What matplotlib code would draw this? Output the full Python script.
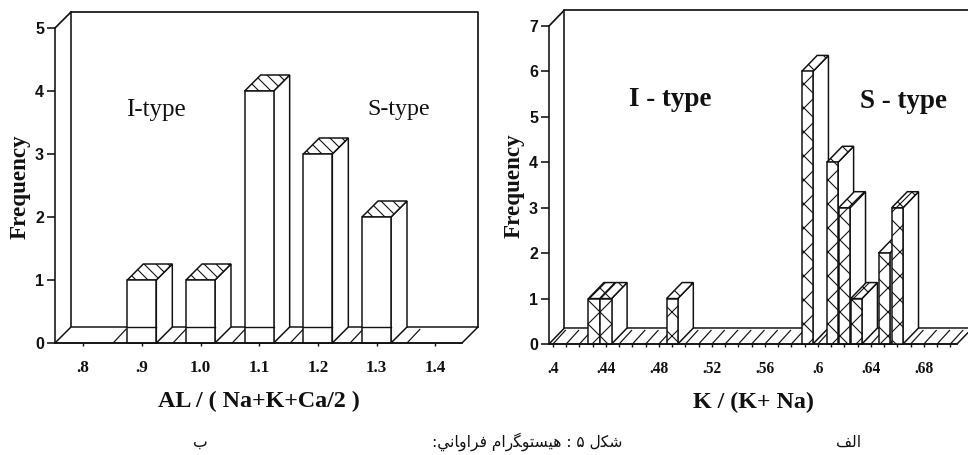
#!/usr/bin/env python3
"""Two pseudo-3D frequency histograms (scanned figure 5), saved to out.png."""
import matplotlib
matplotlib.use("Agg")
import matplotlib.pyplot as plt
from matplotlib.patches import Polygon

W, H = 968, 455
INK = "#111111"

# left panel (b)
al_bins = [0.9, 1.0, 1.1, 1.2, 1.3]
al_freq = [1, 1, 4, 3, 2]
al_ticks = [0.8, 0.9, 1.0, 1.1, 1.2, 1.3, 1.4]
al_labels = [".8", ".9", "1.0", "1.1", "1.2", "1.3", "1.4"]
al_yticks = [0, 1, 2, 3, 4, 5]
al_floor_strokes = [0.851, 0.953, 1.054, 1.153, 1.255, 1.352]

# right panel (alef)
k_bins = [0.431, 0.44, 0.49, 0.592, 0.611, 0.62, 0.629, 0.65, 0.66]
k_freq = [1, 1, 1, 6, 4, 3, 1, 2, 3]
k_ticks = [0.40, 0.44, 0.48, 0.52, 0.56, 0.60, 0.64, 0.68]
k_labels = [".4", ".44", ".48", ".52", ".56", ".6", ".64", ".68"]
k_minor = [0.40 + i * 0.01 for i in range(31)]
k_yticks = [0, 1, 2, 3, 4, 5, 6, 7]

# Persian captions, shaped by hand since matplotlib does no Arabic joining.
# Each word is listed in reading order using presentation forms, then reversed.
CAPTION = ["\ufeb7\ufb91\ufedd", "\u06f5", ":",
           "\ufeeb\ufbff\ufeb4\ufe98\ufeee\ufb95\ufead\ufe8d\ufee1",
           "\ufed3\ufeae\ufe8d\ufeed\ufe8e\ufee7\ufef2:"]
LABEL_B = "\ufe8f"
LABEL_ALEF = "\ufe8d\ufedf\ufed2"


def visual(words):
    return " ".join(w[::-1] if w != ":" else w for w in reversed(words))


def make_axes(fig, left, right, bottom, top):
    ax = fig.add_axes([left / W, 1 - bottom / H, (right - left) / W, (bottom - top) / H])
    ax.patch.set_alpha(0)
    for s in ("top", "right"):
        ax.spines[s].set_visible(False)
    for s in ("left", "bottom"):
        ax.spines[s].set_linewidth(1.6)
        ax.spines[s].set_color(INK)
        ax.spines[s].set_zorder(30)
    return ax


def poly(ax, pts, z, hatch=None, fc="white", lw=1.5):
    ax.add_patch(Polygon(pts, closed=True, facecolor=fc, edgecolor=INK, linewidth=lw,
                         hatch=hatch, clip_on=False, zorder=z))


def frame(ax, dx, dy):
    x0, x1 = ax.get_xlim()
    ymax = ax.get_ylim()[1]
    ax.plot([x0, x0 + dx, x1 + dx, x1 + dx], [ymax, ymax + dy, ymax + dy, dy],
            color=INK, lw=1.7, clip_on=False, zorder=1)
    ax.plot([x0 + dx, x0 + dx], [dy, ymax + dy], color=INK, lw=1.6, clip_on=False, zorder=1)


def floor(ax, strokes, dx, dy):
    x0, x1 = ax.get_xlim()
    poly(ax, [(x0, 0), (x1, 0), (x1 + dx, dy), (x0 + dx, dy)], 2)
    for s in strokes:
        ax.plot([s, s + dx * 0.8], [0, dy * 0.85], color=INK, lw=1.2, clip_on=False, zorder=3)


def bars(ax, xs, vals, width, dx, dy, front_hatch, top_hatch):
    z = 5
    for x, v in zip(xs, vals):
        a, b = x - width / 2, x + width / 2
        poly(ax, [(b, 0), (b + dx, dy), (b + dx, v + dy), (b, v)], z)
        poly(ax, [(a, v), (b, v), (b + dx, v + dy), (a + dx, v + dy)], z + 1, hatch=top_hatch)
        poly(ax, [(a, 0), (b, 0), (b, v), (a, v)], z + 2, hatch=front_hatch)
        z += 3


def style_ticks(ax, ylabel, xlabel, tick_size, pad, xlabel_size, labelpad):
    ax.tick_params(axis="y", length=8, width=1.6, pad=3, color=INK)
    ax.tick_params(axis="x", which="both", length=3, width=1.4, pad=pad, color=INK)
    for t in ax.get_yticklabels():
        t.set(family="Liberation Sans", fontweight="bold", fontsize=16, color=INK)
    for t in ax.get_xticklabels():
        t.set(family="Liberation Serif", fontweight="bold", fontsize=tick_size, color=INK)
    ax.set_ylabel(ylabel, family="Liberation Serif", fontweight="bold", fontsize=23, color=INK)
    ax.yaxis.set_label_coords(-0.061, 0.497)
    ax.set_xlabel(xlabel, family="Liberation Serif", fontweight="bold", fontsize=xlabel_size,
                  color=INK, labelpad=labelpad)


def note(fig, xp, yp, txt, size, weight="normal"):
    fig.text(xp / W, 1 - yp / H, txt, ha="center", va="center", family="Liberation Serif",
             fontweight=weight, fontsize=size, color=INK, zorder=40)


plt.rcParams["hatch.linewidth"] = 1.1
plt.rcParams["hatch.color"] = INK
fig = plt.figure(figsize=(W / 72, H / 72), dpi=72, facecolor="white")

# --- left panel ---
ax = make_axes(fig, 55, 462, 343, 28)
ax.set_xlim(0.752, 1.4457)
ax.set_ylim(0, 5)
dx, dy = 16 / 587, 16 / 63
ax.set_xticks(al_ticks)
ax.set_xticklabels(al_labels)
ax.set_yticks(al_yticks)
frame(ax, dx, dy)
floor(ax, al_floor_strokes, dx, dy)
bars(ax, al_bins, al_freq, 0.0494, dx, dy, None, "\\\\")
# the floor's back edge shows through the open front faces
for x, v in zip(al_bins, al_freq):
    ax.plot([x - 0.0247, x + 0.0247], [dy, dy], color=INK, lw=1.4, zorder=28)
style_ticks(ax, "Frequency", "AL / ( Na+K+Ca/2 )", 17, 14, 24, 15)
note(fig, 156, 110, "I-type", 25)
note(fig, 399, 110, "S-type", 24)

# --- right panel ---
ax = make_axes(fig, 549, 957, 344, 26)
ax.set_xlim(0.397, 0.705)
ax.set_ylim(0, 7)
dx, dy = 15.5 / 1325, 16 / 45.4
ax.set_xticks(k_ticks)
ax.set_xticklabels(k_labels)
ax.set_xticks(k_minor, minor=True)
ax.set_yticks(k_yticks)
frame(ax, dx, dy)
floor(ax, k_minor, dx, dy)
bars(ax, k_bins, k_freq, 0.0085, dx, dy, "x", "x")
style_ticks(ax, "Frequency", "K / (K+ Na)", 15.5, 14, 24, 15)
note(fig, 670, 100, "I - type", 27, "bold")
note(fig, 903, 102, "S - type", 27, "bold")

# --- captions ---
for xp, txt in [(527, visual(CAPTION)), (200, LABEL_B), (849, LABEL_ALEF[::-1])]:
    fig.text(xp / W, 1 - 442 / H, txt, ha="center", va="center",
             family="DejaVu Sans", fontsize=15.5, color=INK)

fig.savefig("out.png", dpi=72)
print("saved out.png")
